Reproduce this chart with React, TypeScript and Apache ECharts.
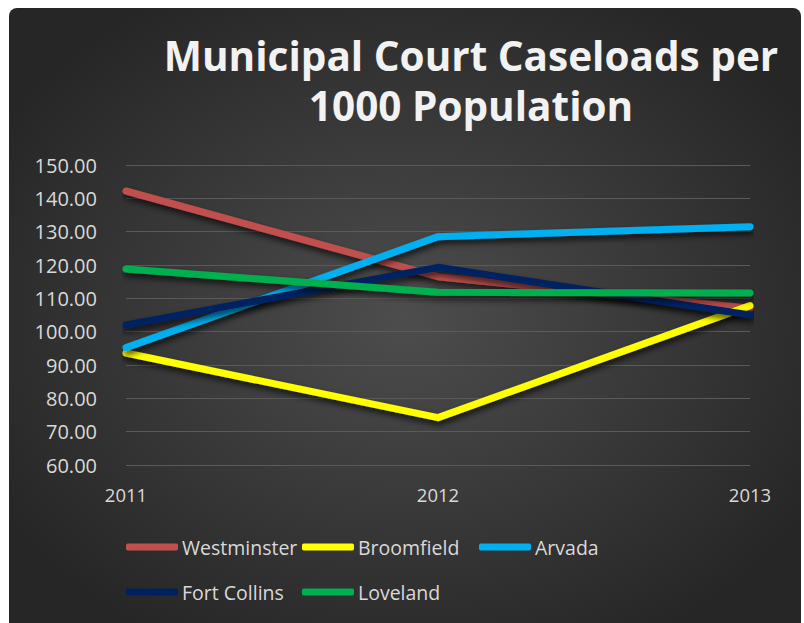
import React, { useEffect, useRef } from "react";
import * as echarts from "echarts";

const years = ["2011", "2012", "2013"];
const westminster = [142.2, 116.5, 107.0];
const broomfield = [93.6, 74.2, 107.8];
const arvada = [95.2, 128.5, 131.5];
const fortCollins = [102.0, 119.3, 105.0];
const loveland = [118.8, 111.8, 111.6];

const seriesNames = ["Westminster", "Broomfield", "Arvada", "Fort Collins", "Loveland"];
const seriesData = [westminster, broomfield, arvada, fortCollins, loveland];
const colors = ["#C0504D", "#FFFF00", "#00B0F0", "#002060", "#00B050"];
const legendPos = [
  [126, 537],
  [302, 537],
  [479, 537],
  [126, 582],
  [302, 582],
];

export default function App() {
  const ref = useRef<HTMLDivElement>(null);
  useEffect(() => {
    const chart = echarts.init(ref.current!, null, { renderer: "svg" });
    const font = "'Open Sans', 'Noto Sans', sans-serif";
    const titleStyle = {
      font: "bold 40.5px 'Open Sans', sans-serif",
      fill: "#f2f2f2",
      align: "center",
      verticalAlign: "middle",
      shadowColor: "rgba(0,0,0,0.85)",
      shadowBlur: 4,
      shadowOffsetX: 2,
      shadowOffsetY: 3,
    };
    chart.setOption({
      animation: false,
      backgroundColor: "#ffffff",
      graphic: [
        {
          type: "rect",
          z: -10,
          silent: true,
          shape: { x: 9, y: 8, width: 792, height: 620, r: [8, 8, 0, 0] },
          style: {
            fill: {
              type: "radial",
              x: 0.5,
              y: 0.5,
              r: 0.6,
              colorStops: [
                { offset: 0, color: "#4d4d4d" },
                { offset: 1, color: "#262626" },
              ],
            },
          },
        },
        {
          type: "text",
          x: 471,
          y: 55,
          style: { ...titleStyle, text: "Municipal Court Caseloads per" },
        },
        {
          type: "text",
          x: 471,
          y: 105,
          style: { ...titleStyle, text: "1000 Population" },
        },
      ],
      legend: seriesNames.map((n, i) => ({
        data: [n],
        left: legendPos[i][0],
        top: legendPos[i][1],
        itemWidth: 52,
        itemHeight: 7,
        itemGap: 0,
        icon: "roundRect",
        textStyle: { color: "#d9d9d9", fontSize: 19.5, fontFamily: font, padding: [0, 0, 0, -1] },
        padding: 0,
      })),
      grid: { left: 126, right: 54, top: 165, bottom: 158 },
      xAxis: {
        type: "category",
        data: years,
        boundaryGap: false,
        axisLine: { show: false },
        axisTick: { show: false },
        axisLabel: { color: "#d9d9d9", fontSize: 18.5, fontFamily: font, margin: 20 },
      },
      yAxis: {
        type: "value",
        min: 60,
        max: 150,
        interval: 10,
        axisLine: { show: false },
        axisTick: { show: false },
        splitLine: { lineStyle: { color: "#5a5a5a", width: 1 } },
        axisLabel: {
          color: "#d9d9d9",
          fontSize: 20,
          fontFamily: font,
          margin: 29,
          formatter: (v: number) => v.toFixed(2),
        },
      },
      series: seriesNames.map((n, i) => ({
        name: n,
        type: "line",
        data: seriesData[i],
        symbol: "none",
        color: colors[i],
        lineStyle: {
          width: 7,
          color: colors[i],
          cap: "round",
          join: "round",
          shadowColor: "rgba(0,0,0,0.7)",
          shadowBlur: 6,
          shadowOffsetY: 4,
          shadowOffsetX: 1,
        },
      })),
    });
    return () => chart.dispose();
  }, []);
  return (
    <div
      ref={ref}
      style={{ position: "absolute", left: 0, top: 0, width: 804, height: 623 }}
    />
  );
}
